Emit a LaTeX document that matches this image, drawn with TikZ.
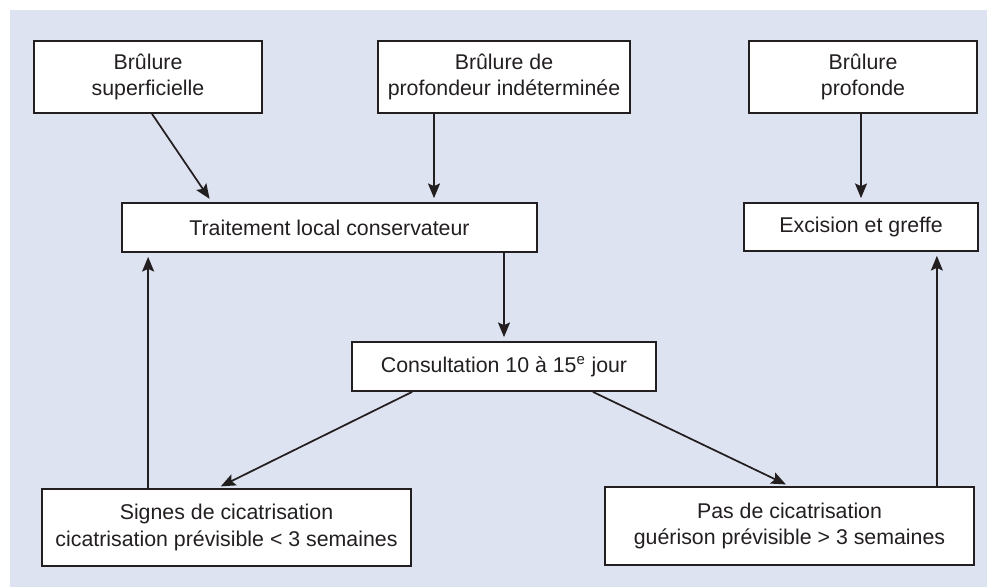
\documentclass[tikz,border=0pt]{standalone}
\usepackage{fontspec}
\setmainfont{Liberation Sans}
\usetikzlibrary{arrows.meta}

\definecolor{fond}{RGB}{222,227,242}
\definecolor{trait}{RGB}{35,31,32}

\tikzset{
  boite/.style={draw=trait, line width=1.3pt, fill=white, inner sep=0pt,
    align=center, text=trait, font=\fontsize{16}{20}\selectfont},
  fleche/.style={-{Stealth[length=11pt,width=9pt,inset=2pt]}, line width=1.3pt,
    draw=trait, shorten >=3pt}
}

\begin{document}
\begin{tikzpicture}[x=0.75pt,y=-0.75pt]
  \useasboundingbox (0,0) rectangle (987,587);
  \fill [fond] (10,10) rectangle (987,587);

  % niveau du haut
  \node [boite, minimum width=171pt, minimum height=54pt] (b1) at (148,77) {Brûlure\\superficielle};
  \node [boite, minimum width=189pt, minimum height=54pt] (b2) at (504,77) {Brûlure de\\profondeur indéterminée};
  \node [boite, minimum width=171pt, minimum height=54pt] (b3) at (863,77) {Brûlure\\profonde};

  % traitements
  \node [boite, minimum width=311.25pt, minimum height=36.75pt] (t) at (329.5,227.5) {Traitement local conservateur};
  \node [boite, minimum width=175.5pt, minimum height=36pt] (e) at (861,227) {Excision et greffe};

  \node [boite, minimum width=228pt, minimum height=36.75pt] (c) at (504,366.5) {Consultation 10 à 15\textsuperscript{e} jour};

  % issues
  \node [boite, minimum width=276.75pt, minimum height=57.75pt] (s) at (226.5,527.5) {Signes de cicatrisation\\cicatrisation prévisible < 3 semaines};
  \node [boite, minimum width=276.75pt, minimum height=58.5pt] (p) at (789.5,526) {Pas de cicatrisation\\guérison prévisible > 3 semaines};

  % fleches
  \draw [fleche] ([xshift=3pt]b1.south) -- ([xshift=68pt]t.north west);
  \draw [fleche] ([xshift=-52.5pt]b2.south) -- ([xshift=-52.5pt]b2.south |- t.north);
  \draw [fleche] (e.north |- b3.south) -- (e.north);
  \draw [fleche] (c.north |- t.south) -- (c.north);
  \draw [fleche] ([xshift=45.75pt]c.south west) -- ([xshift=-7pt]s.north);
  \draw [fleche] ([xshift=-48pt]c.south east) -- (p.north);
  \draw [fleche] ([xshift=80.25pt]s.north west) -- ([xshift=80.25pt]s.north west |- t.south);
  \draw [fleche] ([xshift=-28.5pt]p.north east) -- ([xshift=-28.5pt]p.north east |- e.south);
\end{tikzpicture}
\end{document}
